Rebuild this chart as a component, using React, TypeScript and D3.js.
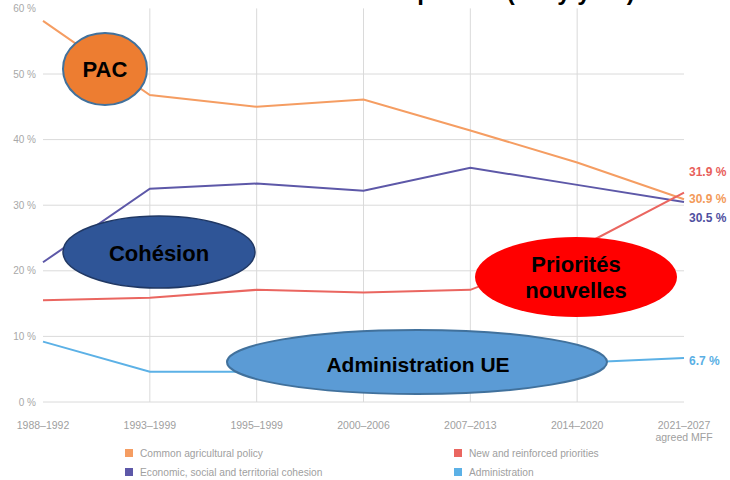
import React from 'react';
import * as d3 from 'd3';

const categories = ['1988–1992', '1993–1999', '1995–1999', '2000–2006', '2007–2013', '2014–2020', '2021–2027'];
const capValues = [58.1, 46.8, 45.0, 46.1, 41.4, 36.5, 30.9];
const cohesionValues = [21.3, 32.5, 33.3, 32.2, 35.7, 33.1, 30.5];
const prioritiesValues = [15.5, 15.9, 17.1, 16.7, 17.1, 23.4, 31.9];
const adminValues = [9.2, 4.6, 4.6, 5.5, 5.8, 6.0, 6.7];
const yTicks = [0, 10, 20, 30, 40, 50, 60];

const series = [
  { key: 'cap', name: 'Common agricultural policy', values: capValues, color: '#F59D62', labelColor: '#F39A59', dy: 4 },
  { key: 'cohesion', name: 'Economic, social and territorial cohesion', values: cohesionValues, color: '#5D58A8', labelColor: '#4F4FA0', dy: 20 },
  { key: 'prio', name: 'New and reinforced priorities', values: prioritiesValues, color: '#EA6660', labelColor: '#E8605A', dy: -17 },
  { key: 'admin', name: 'Administration', values: adminValues, color: '#5CB1E6', labelColor: '#5AAFE4', dy: 7 },
];

const W = 730;
const H = 480;

const fmt = (v: number) => `${v.toFixed(1)} %`;

export default function App() {
  const x = d3.scalePoint<string>().domain(categories).range([43, 684]);
  const y = d3.scaleLinear().domain([0, 60]).range([402, 8.4]);

  const line = d3.line<number>()
    .x((_, i) => x(categories[i]) as number)
    .y(d => y(d));

  const last = categories.length - 1;
  const bubbleFont = 'Liberation Sans, Arial, sans-serif';

  return (
    <svg width={W} height={H} style={{ position: 'absolute', left: 0, top: 0, background: '#fff' }}
      fontFamily="Liberation Sans, Arial, sans-serif">
      {/* title, mostly cropped off the top in the source */}
      <text x={430} y={0} textAnchor="middle" fontSize={24} fontWeight="bold" fill="#000">
        Évolution des dépenses (% by year)
      </text>

      {/* grid */}
      {yTicks.filter(t => t < 60).map(t => (
        <line key={t} x1={43} x2={684} y1={y(t)} y2={y(t)} stroke="#DADADA" strokeWidth={1} />
      ))}
      {categories.slice(1, last).map(c => (
        <line key={c} x1={x(c)} x2={x(c)} y1={y(60)} y2={y(0)} stroke="#DADADA" strokeWidth={1} />
      ))}

      {/* y ticks */}
      {yTicks.map(t => (
        <text key={t} x={36} y={y(t)} dy="0.35em" textAnchor="end" fontSize={10} fill="#A8A8A8">
          {t} %
        </text>
      ))}

      {/* x ticks */}
      {categories.map((c, i) => (
        <text key={c} x={x(c)} y={429} textAnchor="middle" fontSize={10.5} fill="#A0A0A0">
          {c}
          {i === last && <tspan x={x(c)} dy={11.5}>agreed MFF</tspan>}
        </text>
      ))}

      {/* lines */}
      {series.map(s => (
        <path key={s.key} d={line(s.values) || ''} fill="none" stroke={s.color} strokeWidth={2} />
      ))}

      {/* end labels */}
      {series.map(s => (
        <text key={s.key} x={689} y={y(s.values[last]) + s.dy} fontSize={12} fontWeight="bold" fill={s.labelColor}>
          {fmt(s.values[last])}
        </text>
      ))}

      {/* legend: two columns, two rows */}
      {series.map((s, i) => {
        const lx = i < 2 ? 125 : 454;
        const ly = i % 2 === 0 ? 449 : 468;
        return (
          <g key={s.key}>
            <rect x={lx} y={ly} width={8} height={8} fill={s.color} />
            <text x={lx + 15} y={ly + 7.5} fontSize={10.2} fill="#A0A0A0">{s.name}</text>
          </g>
        );
      })}

      {/* annotation bubbles */}
      <ellipse cx={105} cy={69} rx={42} ry={36} fill="#ED7D31" stroke="#41719C" strokeWidth={2} />
      <text x={105} y={77} textAnchor="middle" fontSize={22} fontWeight="bold" fontFamily={bubbleFont} fill="#000">PAC</text>

      <ellipse cx={159} cy={252} rx={96} ry={36} fill="#2F5597" stroke="#203864" strokeWidth={1.5} />
      <text x={159} y={261} textAnchor="middle" fontSize={22} fontWeight="bold" fontFamily={bubbleFont} fill="#000">Cohésion</text>

      <ellipse cx={576} cy={277} rx={101} ry={40} fill="#FF0000" />
      <text x={576} y={272} textAnchor="middle" fontSize={22} fontWeight="bold" fontFamily={bubbleFont} fill="#000">Priorités</text>
      <text x={576} y={298} textAnchor="middle" fontSize={22} fontWeight="bold" fontFamily={bubbleFont} fill="#000">nouvelles</text>

      <ellipse cx={417} cy={362} rx={190} ry={32} fill="#5B9BD5" stroke="#41719C" strokeWidth={2} />
      <text x={418} y={372} textAnchor="middle" fontSize={21} fontWeight="bold" fontFamily={bubbleFont} fill="#000">Administration UE</text>
    </svg>
  );
}
